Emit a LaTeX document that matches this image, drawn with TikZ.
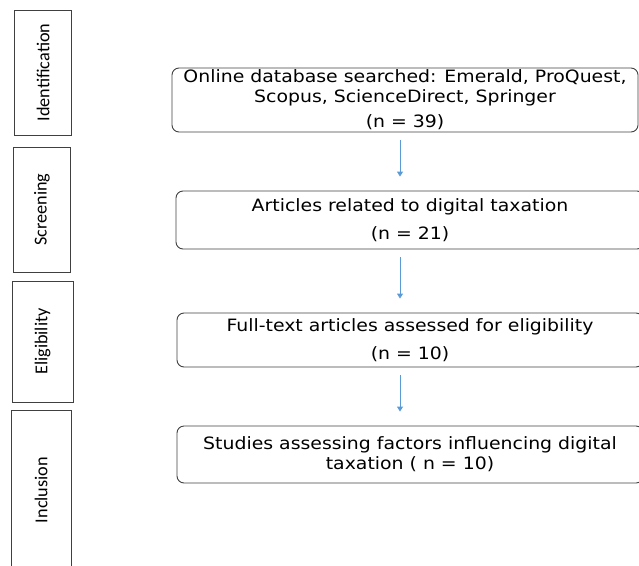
\documentclass[tikz,border=0pt]{standalone}
\usepackage{fontspec}
\setmainfont[FakeStretch=1.11]{DejaVu Sans}
\newfontfamily\phasefont{Carlito}
\usetikzlibrary{arrows.meta}
\definecolor{boxline}{RGB}{64, 64, 64}
\definecolor{flowblue}{RGB}{91, 155, 213}
\tikzset{
	phase/.style={draw=boxline, line width=0.9pt, rotate=90, minimum height=57pt, font=\phasefont\fontsize{18.2}{20}\selectfont, inner sep=0pt},
	stage/.style={draw=boxline, line width=0.9pt, rounded corners=7pt, align=center, inner sep=0pt, font=\fontsize{17}{20}\selectfont},
	flow/.style={draw=flowblue, line width=0.9pt, -{Triangle[width=6pt,length=5pt]}, shorten <=8pt, shorten >=14pt}
}

\begin{document}
\begin{tikzpicture}[x=1pt, y=-1pt]
			\clip (0, 0) rectangle (639, 565);
			\node [phase, minimum width=125pt] (ident) at (43, 72.5) {Identification};
			\node [phase, minimum width=125pt] (screen) at (42, 209.5) {Screening};
			\node [phase, minimum width=121pt, minimum height=61pt] (elig) at (42.5, 341.5) {Eligibility};
			\node [phase, minimum width=160pt, minimum height=60pt] (incl) at (41, 490) {Inclusion};
			\node [stage, minimum width=466pt, minimum height=64pt] (searched) at (405, 100) {Online database searched: Emerald, ProQuest,\\ Scopus, ScienceDirect, Springer\\[5pt] (n = 39)};
			\node [stage, minimum width=468pt, minimum height=58pt] (related) at (410, 220) {Articles related to digital taxation\\[8pt] (n = 21)};
			\node [stage, minimum width=466pt, minimum height=54pt] (fulltext) at (410, 340) {Full-text articles assessed for eligibility\\[8pt] (n = 10)};
			\node [stage, minimum width=466pt, minimum height=57pt] (studies) at (410, 454.5) {Studies assessing factors influencing digital\\ taxation ( n = 10)};
			\coordinate (axis) at (400, 0);
			\draw [flow] (searched.south -| axis) -- (related.north -| axis);
			\draw [flow] (related.south -| axis) -- (fulltext.north -| axis);
			\draw [flow] (fulltext.south -| axis) -- (studies.north -| axis);
		\end{tikzpicture}
\end{document}
